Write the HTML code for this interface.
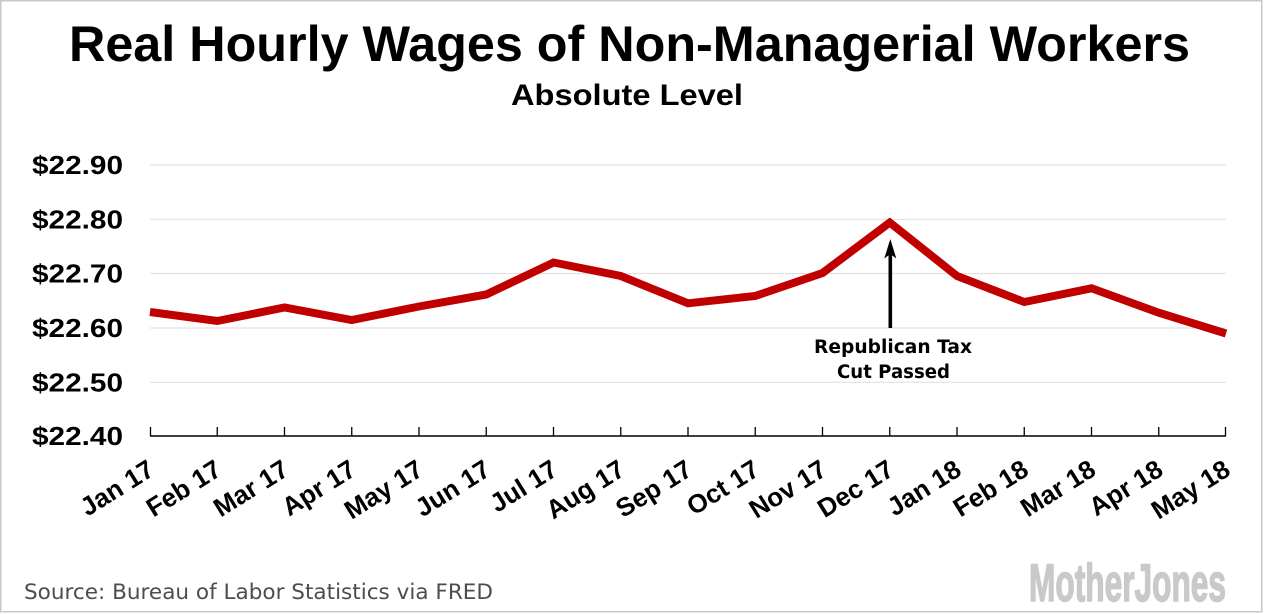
<!DOCTYPE html>
<html>
<head>
<meta charset="utf-8">
<style>
  html, body { margin:0; padding:0; background:#ffffff; }
  body { width:1264px; height:614px; overflow:hidden; }
  svg { display:block; }
  .b { font-family:"Liberation Sans", Arial, sans-serif; font-weight:bold; fill:#000; }
  .d { font-family:"DejaVu Sans", "Liberation Sans", sans-serif; }
</style>
</head>
<body>
<svg width="1264" height="614" viewBox="0 0 1264 614" xmlns="http://www.w3.org/2000/svg">
  <rect x="0" y="0" width="1264" height="614" fill="#ffffff"/>
  <rect x="0.75" y="0.75" width="1261" height="611" fill="none" stroke="#c8c8c8" stroke-width="1.5"/>

  <!-- Title -->
  <text class="b" x="69" y="61" font-size="50" textLength="1121" lengthAdjust="spacingAndGlyphs">Real Hourly Wages of Non-Managerial Workers</text>
  <text class="b" x="511" y="105" font-size="30" textLength="232" lengthAdjust="spacingAndGlyphs">Absolute Level</text>

  <!-- Gridlines -->
  <g stroke="#e2e2e2" stroke-width="1.2">
    <line x1="150" y1="165" x2="1226" y2="165"/>
    <line x1="150" y1="219.3" x2="1226" y2="219.3"/>
    <line x1="150" y1="273.5" x2="1226" y2="273.5"/>
    <line x1="150" y1="328" x2="1226" y2="328"/>
    <line x1="150" y1="382.3" x2="1226" y2="382.3"/>
  </g>

  <!-- Y labels -->
  <g class="b" font-size="25.5" text-anchor="end">
    <text x="123" y="174" textLength="91" lengthAdjust="spacingAndGlyphs">$22.90</text>
    <text x="123" y="228.3" textLength="91" lengthAdjust="spacingAndGlyphs">$22.80</text>
    <text x="123" y="282.5" textLength="91" lengthAdjust="spacingAndGlyphs">$22.70</text>
    <text x="123" y="337" textLength="91" lengthAdjust="spacingAndGlyphs">$22.60</text>
    <text x="123" y="391.3" textLength="91" lengthAdjust="spacingAndGlyphs">$22.50</text>
    <text x="123" y="445" textLength="91" lengthAdjust="spacingAndGlyphs">$22.40</text>
  </g>

  <!-- Axis -->
  <line x1="150" y1="436" x2="1226" y2="436" stroke="#000" stroke-width="1.6"/>
  <g stroke="#000" stroke-width="1.3">
    <line x1="150.5" y1="427" x2="150.5" y2="436"/>
    <line x1="217.25" y1="427" x2="217.25" y2="436"/>
    <line x1="284.5" y1="427" x2="284.5" y2="436"/>
    <line x1="351.75" y1="427" x2="351.75" y2="436"/>
    <line x1="419" y1="427" x2="419" y2="436"/>
    <line x1="486.25" y1="427" x2="486.25" y2="436"/>
    <line x1="553.5" y1="427" x2="553.5" y2="436"/>
    <line x1="620.75" y1="427" x2="620.75" y2="436"/>
    <line x1="688" y1="427" x2="688" y2="436"/>
    <line x1="755.25" y1="427" x2="755.25" y2="436"/>
    <line x1="822.5" y1="427" x2="822.5" y2="436"/>
    <line x1="889.75" y1="427" x2="889.75" y2="436"/>
    <line x1="957" y1="427" x2="957" y2="436"/>
    <line x1="1024.25" y1="427" x2="1024.25" y2="436"/>
    <line x1="1091.5" y1="427" x2="1091.5" y2="436"/>
    <line x1="1158.75" y1="427" x2="1158.75" y2="436"/>
    <line x1="1225.5" y1="427" x2="1225.5" y2="436"/>
  </g>

  <!-- X labels -->
  <g class="b" font-size="26" text-anchor="end">
    <text transform="translate(156,474) rotate(-32)">Jan 17</text>
    <text transform="translate(223.25,474) rotate(-32)">Feb 17</text>
    <text transform="translate(290.5,474) rotate(-32)">Mar 17</text>
    <text transform="translate(357.75,474) rotate(-32)">Apr 17</text>
    <text transform="translate(425,474) rotate(-32)">May 17</text>
    <text transform="translate(492.25,474) rotate(-32)">Jun 17</text>
    <text transform="translate(559.5,474) rotate(-32)">Jul 17</text>
    <text transform="translate(626.75,474) rotate(-32)">Aug 17</text>
    <text transform="translate(694,474) rotate(-32)">Sep 17</text>
    <text transform="translate(761.25,474) rotate(-32)">Oct 17</text>
    <text transform="translate(828.5,474) rotate(-32)">Nov 17</text>
    <text transform="translate(895.75,474) rotate(-32)">Dec 17</text>
    <text transform="translate(963,474) rotate(-32)">Jan 18</text>
    <text transform="translate(1030.25,474) rotate(-32)">Feb 18</text>
    <text transform="translate(1097.5,474) rotate(-32)">Mar 18</text>
    <text transform="translate(1164.75,474) rotate(-32)">Apr 18</text>
    <text transform="translate(1232,474) rotate(-32)">May 18</text>
  </g>

  <!-- Data line -->
  <polyline fill="none" stroke="#c00000" stroke-width="8" stroke-linejoin="miter" stroke-miterlimit="10" stroke-linecap="butt"
    points="150,312 217.25,321 284.5,307.5 351.75,320 419,306.5 486.25,294.5 553.5,262.5 620.75,276 688,303.3 755.25,296 822.5,273 889.75,222.5 957,276 1024.25,302 1091.5,288.3 1158.75,312.7 1226,333.5"/>

  <!-- Arrow -->
  <line x1="890.3" y1="328" x2="890.3" y2="252" stroke="#000" stroke-width="3.6"/>
  <polygon points="890.3,239 884.3,258.5 890.3,254 896.3,258.5" fill="#000"/>

  <!-- Annotation -->
  <g class="d" font-weight="bold" font-size="18.5" fill="#000" text-anchor="middle">
    <text x="893" y="353" textLength="158" lengthAdjust="spacingAndGlyphs">Republican Tax</text>
    <text x="893.5" y="378" textLength="113" lengthAdjust="spacingAndGlyphs">Cut Passed</text>
  </g>

  <!-- Source -->
  <text class="d" x="24" y="599" font-size="21" fill="#4d4d4d" textLength="469" lengthAdjust="spacingAndGlyphs">Source: Bureau of Labor Statistics via FRED</text>

  <!-- Logo -->
  <text x="1029" y="601" font-family="'Liberation Sans', Arial, sans-serif" font-weight="bold" font-size="53" fill="#c9c9c9" stroke="#c9c9c9" stroke-width="1.6" stroke-linejoin="round" textLength="197" lengthAdjust="spacingAndGlyphs">MotherJones</text>
</svg>
</body>
</html>
